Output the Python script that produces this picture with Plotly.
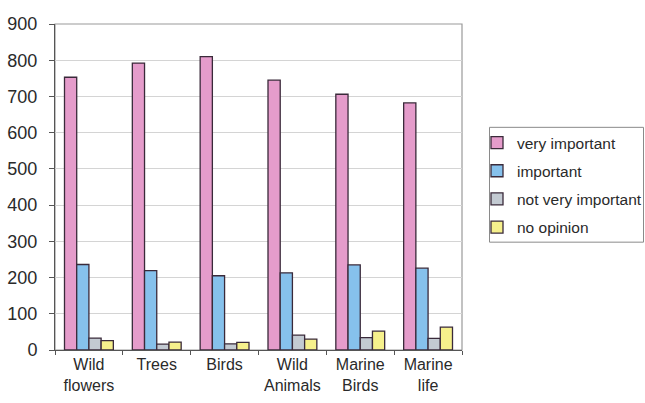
import plotly.graph_objects as go

categories = ["Wild<br>flowers", "Trees", "Birds", "Wild<br>Animals", "Marine<br>Birds", "Marine<br>life"]
very_important = [753, 792, 810, 745, 706, 682]
important = [236, 219, 205, 213, 235, 226]
not_very_important = [33, 16, 17, 41, 34, 32]
no_opinion = [26, 22, 21, 30, 52, 63]
series_names = ["very important", "important", "not very important", "no opinion"]
colors = ["#E59CCB", "#86C1EC", "#C3CAD2", "#F6F08C"]
y_ticks = [0, 100, 200, 300, 400, 500, 600, 700, 800, 900]

series = [very_important, important, not_very_important, no_opinion]

W, H = 645, 403
L, T = 55, 24
R = W - 462
B = H - 350.5

fig = go.Figure()
for name, vals, col in zip(series_names, series, colors):
    fig.add_trace(go.Bar(
        x=categories, y=vals, name=name, legendgroup=name,
        marker=dict(color=col, line=dict(color="#3a2a3a", width=1.3)),
    ))

font_family = "Liberation Sans, Arial, sans-serif"
fig.update_layout(
    width=W, height=H,
    margin=dict(l=L, r=R, t=T, b=B, autoexpand=False),
    paper_bgcolor="white", plot_bgcolor="white",
    barmode="group", bargap=0.28, bargroupgap=0,
    font=dict(family=font_family, color="#2a2a2a"),
    showlegend=True,
    legend=dict(
        xref="container", yref="container",
        x=477 / W, xanchor="left", y=1 - 126 / H, yanchor="top",
        font=dict(size=15.5, family=font_family, color="#2a2a2a"),
        bgcolor="rgba(0,0,0,0)", borderwidth=0,
        tracegroupgap=5, itemwidth=30,
    ),
    xaxis=dict(
        automargin=False,
        showline=True, linecolor="#555", linewidth=1,
        ticks="outside", tickson="boundaries", ticklen=4, tickcolor="#555",
        tickfont=dict(size=16), showgrid=False,
    ),
    yaxis=dict(
        automargin=False,
        range=[0, 900], tickvals=y_ticks,
        showline=True, linecolor="#555", linewidth=1,
        ticks="outside", ticklen=5, tickcolor="#555",
        ticklabelstandoff=8,
        tickfont=dict(size=18),
        showgrid=True, gridcolor="#d4d4d4", gridwidth=1,
        zeroline=False,
    ),
)

# plot area border (top/right) and legend box
fig.add_shape(type="rect", xref="x domain", yref="y domain", x0=0, x1=1, y0=0, y1=1,
              line=dict(color="#9a9a9a", width=1.2), layer="below")
plot_w = W - L - R
plot_h = H - T - B
def px_x(p):
    return (p - L) / plot_w
def px_y(p):
    return (H - B - p) / plot_h
fig.add_shape(type="rect", xref="paper", yref="paper",
              x0=px_x(489.5), x1=px_x(643.5), y0=px_y(242.5), y1=px_y(127.5),
              line=dict(color="#8a8a8a", width=1))

fig.write_html("out.html",
               config={"displayModeBar": False},
               post_script="document.body.style.margin='0';document.body.style.overflow='hidden';")
